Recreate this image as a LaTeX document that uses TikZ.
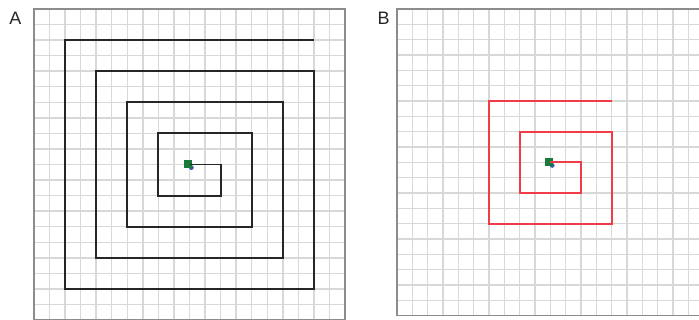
\documentclass[tikz,border=0pt]{standalone}
\usepackage{fontspec}
\setmainfont{Liberation Sans}
\begin{document}
\begin{tikzpicture}[x=0.75pt,y=-0.75pt,
  gridline/.style={draw=gridgrey,line width=1.1pt},
  frameline/.style={draw=framegrey,line width=1.1pt},
  spiralA/.style={draw=black!85,line width=1.4pt,line join=miter},
  spiralB/.style={draw=spiralred,line width=1.4pt,line join=miter},
  panellabel/.style={font=\fontsize{13.5}{14}\selectfont,text=black!85,inner sep=0pt},
  greensq/.style={fill=markgreen,draw=none,minimum size=6pt,inner sep=0pt},
  bluedot/.style={fill=markblue,draw=none,circle,minimum size=3.6pt,inner sep=0pt}]
\definecolor{gridgrey}{HTML}{D8D8D8}
\definecolor{framegrey}{HTML}{8C8C8C}
\definecolor{spiralred}{HTML}{F03C46}
\definecolor{markgreen}{HTML}{1A7A3C}
\definecolor{markblue}{HTML}{3A5AAA}
\useasboundingbox (0,0) rectangle (699,320);
\fill[white] (0,0) rectangle (699,320);
% labels
\node[panellabel] (labA) at (15.5,18.5) {A};
\node[panellabel] (labB) at (383.5,18.5) {B};
% panel A
\begin{scope}[shift={(34,9)},x=11.6625pt,y=-11.6625pt]
  \foreach \i in {1,...,19} {
    \draw[gridline] (\i,0) -- (\i,20);
    \draw[gridline] (0,\i) -- (20,\i);
  }
  \draw[frameline] (0,0) rectangle (20,20);
  \coordinate (cA) at (10,10);
  \node[bluedot] (dotA) at (10.12,10.2) {};
  \node[greensq] (sqA) at (9.93,9.97) {};
  \draw[spiralA] (cA) -- (12,10) -- (12,12) -- (8,12) -- (8,8) -- (14,8) -- (14,14) -- (6,14) -- (6,6)
     -- (16,6) -- (16,16) -- (4,16) -- (4,4) -- (18,4) -- (18,18) -- (2,18) -- (2,2) -- (18,2);
\end{scope}
% panel B
\begin{scope}[shift={(397,9)},x=11.5pt,y=-11.5pt]
  \foreach \i in {1,...,19} {
    \draw[gridline] (\i,0) -- (\i,20);
    \draw[gridline] (0,\i) -- (20,\i);
  }
  \draw[frameline] (0,0) rectangle (20,20);
  \coordinate (cB) at (10,10);
  \node[bluedot] (dotB) at (10.12,10.2) {};
  \node[greensq] (sqB) at (9.93,9.97) {};
  \draw[spiralB] (cB) -- (12,10) -- (12,12) -- (8,12) -- (8,8) -- (14,8) -- (14,14) -- (6,14) -- (6,6) -- (14,6);
\end{scope}
\end{tikzpicture}
\end{document}
